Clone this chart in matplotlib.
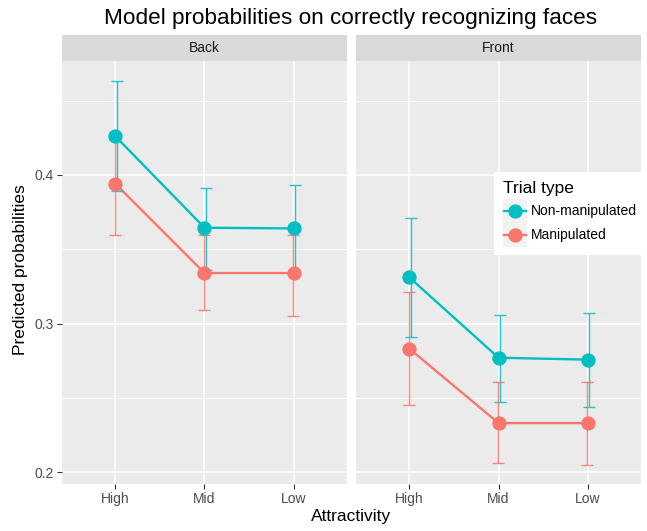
import numpy as np
import matplotlib
matplotlib.use('Agg')
import matplotlib.pyplot as plt
from matplotlib.patches import Rectangle

plt.rcParams['font.family'] = ['Liberation Sans', 'DejaVu Sans']

# values
attract = ['High', 'Mid', 'Low']
facets = ['Back', 'Front']
trial_types = ['Non-manipulated', 'Manipulated']

nonmanip_back = [0.426, 0.3645, 0.364]
nonmanip_back_lo = [0.389, 0.336, 0.334]
nonmanip_back_hi = [0.463, 0.391, 0.393]
manip_back = [0.394, 0.334, 0.334]
manip_back_lo = [0.3595, 0.309, 0.305]
manip_back_hi = [0.4285, 0.3593, 0.3595]

nonmanip_front = [0.331, 0.277, 0.2757]
nonmanip_front_lo = [0.291, 0.247, 0.244]
nonmanip_front_hi = [0.371, 0.3056, 0.3072]
manip_front = [0.283, 0.233, 0.233]
manip_front_lo = [0.245, 0.206, 0.205]
manip_front_hi = [0.321, 0.2607, 0.2607]

data = {
    'Back': [(nonmanip_back, nonmanip_back_lo, nonmanip_back_hi),
             (manip_back, manip_back_lo, manip_back_hi)],
    'Front': [(nonmanip_front, nonmanip_front_lo, nonmanip_front_hi),
              (manip_front, manip_front_lo, manip_front_hi)],
}

colors = ['#00BFC4', '#F8766D']
dodge = [0.02, -0.008]

W, H = 647, 531
fig = plt.figure(figsize=(W / 100, H / 100), dpi=100)

def fx(px):
    return px / W

def fy(py):
    return 1 - py / H

panel_top, panel_bot = 61, 484
strip_top = 35
panels_x = [(62, 347), (356, 641)]

x = np.arange(len(attract))
for i, (facet, (x0, x1)) in enumerate(zip(facets, panels_x)):
    ax = fig.add_axes([fx(x0), fy(panel_bot), fx(x1 - x0), (panel_bot - panel_top) / H])
    ax.set_facecolor('#EBEBEB')
    for s in ax.spines.values():
        s.set_visible(False)
    ax.set_xlim(-0.6, 2.6)
    ax.set_ylim(0.192, 0.4767)
    ax.set_xticks(x)
    ax.set_yticks([0.2, 0.3, 0.4])
    ax.set_yticks([0.25, 0.35, 0.45], minor=True)
    ax.grid(True, which='major', color='white', lw=1.1)
    ax.grid(True, which='minor', axis='y', color='white', lw=0.55)
    ax.set_axisbelow(True)
    ax.tick_params(which='minor', length=0)
    ax.tick_params(which='major', length=3.5, width=0.8, color='#333333',
                   labelcolor='#4D4D4D', labelsize=10, pad=2.5)
    ax.set_xticklabels(attract)
    if i == 0:
        ax.set_yticklabels(['0.2', '0.3', '0.4'])
    else:
        ax.tick_params(axis='y', length=0, labelleft=False)

    for k in range(2):
        mean, lo, hi = data[facet][k]
        mean = np.array(mean)
        ax.plot(x, mean, color=colors[k], lw=1.7, zorder=2)
        ax.errorbar(x + dodge[k], mean, yerr=[mean - np.array(lo), np.array(hi) - mean],
                    fmt='none', ecolor=colors[k], elinewidth=1.0, capsize=4.3,
                    capthick=1.0, alpha=0.85, zorder=3)
        ax.plot(x, mean, 'o', color=colors[k], ms=9.3, zorder=4)

    # facet strip
    sax = fig.add_axes([fx(x0), fy(panel_top), fx(x1 - x0), (panel_top - strip_top) / H])
    sax.set_facecolor('#D9D9D9')
    sax.set_xticks([])
    sax.set_yticks([])
    for s in sax.spines.values():
        s.set_visible(False)
    sax.text(0.5, 0.5, facet, ha='center', va='center', fontsize=10, color='#1A1A1A',
             transform=sax.transAxes)

fig.text(fx(350.5), fy(24), 'Model probabilities on correctly recognizing faces',
         ha='center', va='baseline', fontsize=16.2, color='black')
fig.text(fx(351.5), fy(521), 'Attractivity', ha='center', va='baseline', fontsize=12.5)
fig.text(fx(20.5), fy(270), 'Predicted probabilities', ha='center', va='center',
         rotation=90, fontsize=12.5)

# legend drawn as its own small axes
lx0, ly0, lx1, ly1 = 494, 172, 641, 255
lax = fig.add_axes([fx(lx0), fy(ly1), fx(lx1 - lx0), (ly1 - ly0) / H])
lax.set_xlim(0, lx1 - lx0)
lax.set_ylim(ly1 - ly0, 0)
lax.set_facecolor('white')
lax.set_xticks([])
lax.set_yticks([])
for s in lax.spines.values():
    s.set_visible(False)
lax.text(8.7, 16, 'Trial type', ha='left', va='center', fontsize=12.5)
for k, name in enumerate(trial_types):
    yc = 39 + 24 * k
    lax.add_patch(Rectangle((9, yc - 12), 24, 24, facecolor='#F2F2F2', edgecolor='none'))
    lax.plot([10, 32], [yc, yc], color=colors[k], lw=1.7)
    lax.plot([21], [yc], 'o', color=colors[k], ms=9.3)
    lax.text(37, yc, name, ha='left', va='center', fontsize=10)

fig.savefig('out.png', dpi=100)
